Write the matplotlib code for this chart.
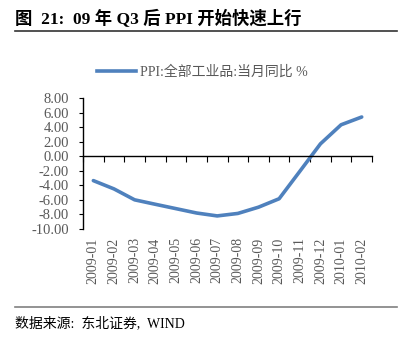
import numpy as np
import matplotlib
matplotlib.use('Agg')
import matplotlib.pyplot as plt
from matplotlib.lines import Line2D

FAM = ['Liberation Serif', 'Noto Sans CJK SC']
plt.rcParams['font.family'] = FAM
plt.rcParams['axes.unicode_minus'] = False

months = ['2009-01', '2009-02', '2009-03', '2009-04', '2009-05', '2009-06', '2009-07',
          '2009-08', '2009-09', '2009-10', '2009-11', '2009-12', '2010-01', '2010-02']
ppi = [-3.35, -4.49, -5.99, -6.60, -7.20, -7.80, -8.20,
       -7.86, -7.00, -5.84, -2.08, 1.70, 4.32, 5.39]
yticks = np.arange(-10, 8.01, 2)

series_name = 'PPI:全部工业品:当月同比 %'
title = '图  21:  09 年 Q3 后 PPI 开始快速上行'
source = '数据来源:  东北证券,  WIND'

blue = '#4F81BD'
grey = '#595959'

fig = plt.figure(figsize=(4.05, 3.41), dpi=100)
ax = fig.add_axes([0.205, 0.3284, 0.7136, 0.3842])

x = np.arange(len(months))
ax.plot(x, ppi, color=blue, linewidth=2.6, solid_capstyle='round')

ax.set_xlim(-0.5, len(months) - 0.5)
ax.set_ylim(-10, 8)
ax.set_yticks(yticks)
ax.set_yticklabels(['%.2f' % v for v in yticks], fontsize=10.5, color=grey)
ax.tick_params(axis='y', direction='out', length=3, width=0.8, pad=7)

for s in ['top', 'right']:
    ax.spines[s].set_visible(False)
ax.spines['left'].set_linewidth(1.0)
ax.spines['bottom'].set_position(('data', 0))
ax.spines['bottom'].set_linewidth(1.0)
ax.set_xticks(np.arange(len(months) + 1) - 0.5)
ax.set_xticklabels([])
ax.tick_params(axis='x', direction='out', length=4, width=0.8)

sec = ax.secondary_xaxis('bottom')
sec.set_xticks(x)
sec.set_xticklabels(months, rotation=90, fontsize=10, color=grey)
sec.tick_params(length=0, pad=6)
sec.spines['bottom'].set_visible(False)

handle = Line2D([], [], color=blue, linewidth=2.6)
fig.legend([handle], [series_name], loc='center', bbox_to_anchor=(0.5, 0.789),
           frameon=False, fontsize=10, handlelength=2.8, handletextpad=0.3,
           labelcolor=grey)

fig.text(0.037, 0.945, title, fontsize=12.5, fontweight='bold', va='center', ha='left')
fig.add_artist(Line2D([0.037, 0.98], [0.909, 0.909], color='#333333', linewidth=1.2))
fig.add_artist(Line2D([0.037, 0.98], [0.1, 0.1], color='#808080', linewidth=1.2))
fig.text(0.037, 0.053, source, fontsize=10, va='center', ha='left')

fig.savefig('out.png', dpi=100, facecolor='white')
